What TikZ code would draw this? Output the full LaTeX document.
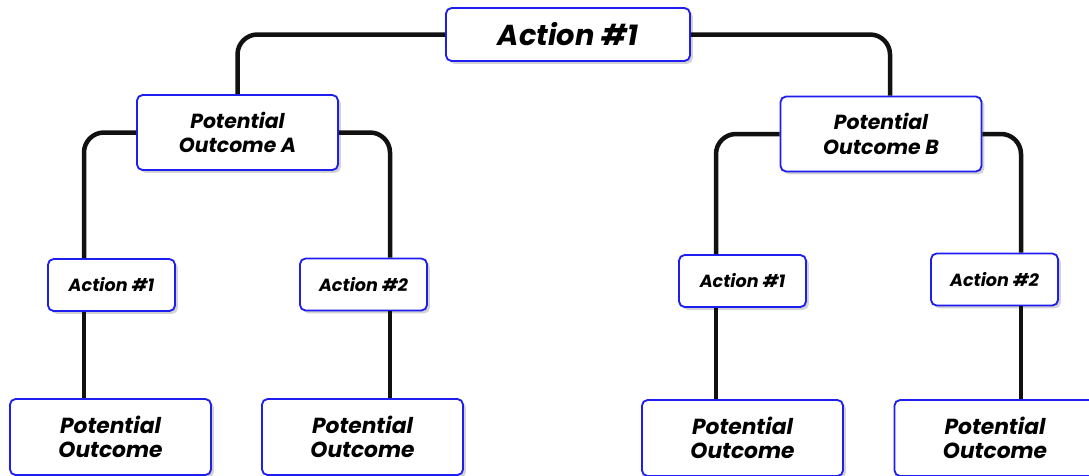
\documentclass[tikz,border=0pt]{standalone}
\usepackage{fontspec}
\setmainfont{Poppins}
\usetikzlibrary{shadows}
\definecolor{boxblue}{HTML}{1E1EF0}
\definecolor{linkblack}{HTML}{111111}

\begin{document}
\begin{tikzpicture}[
    x=0.025cm, y=-0.025cm,
    font=\bfseries\itshape,
    basebox/.style={rectangle, rounded corners=4pt, draw=boxblue, line width=1.3pt,
                    fill=white, align=center, inner sep=2pt,
                    drop shadow={shadow xshift=2pt, shadow yshift=-2pt, opacity=0.35}},
    topbox/.style={basebox, minimum width=6.1cm, minimum height=1.325cm, font=\fontsize{20.5}{22}\selectfont\bfseries\itshape},
    outbox/.style={basebox, minimum width=5.025cm, minimum height=1.875cm, font=\fontsize{14.5}{17.5}\selectfont\bfseries\itshape},
    actbox/.style={basebox, minimum width=3.175cm, minimum height=1.3cm, font=\fontsize{12.5}{14}\selectfont\bfseries\itshape},
    resbox/.style={basebox, minimum width=5.025cm, minimum height=1.9cm, font=\fontsize{15.5}{17.5}\selectfont\bfseries\itshape},
    link/.style={line width=3.2pt, draw=linkblack, rounded corners=0.5cm}
  ]
    \useasboundingbox (0,0) rectangle (1089,475);

    % First choice and its two outcomes
    \node[topbox] (top)  at (568, 34.5) {Action \#1};
    \node[outbox] (outa) at (237.5, 132.5) {Potential\\Outcome A};
    \node[outbox] (outb) at (881, 134) {Potential\\Outcome B};

    % Second round of actions
    \node[actbox] (acta1) at (111.5, 285) {Action \#1};
    \node[actbox] (acta2) at (363.5, 284.5) {Action \#2};
    \node[actbox] (actb1) at (742.5, 281) {Action \#1};
    \node[actbox] (actb2) at (994.5, 279.5) {Action \#2};

    % Final outcomes, cut by the lower edge
    \node[resbox] (resa1) at (110.5, 437) {Potential\\Outcome};
    \node[resbox] (resa2) at (362.5, 437) {Potential\\Outcome};
    \node[resbox] (resb1) at (742.5, 438) {Potential\\Outcome};
    \node[resbox] (resb2) at (995, 438) {Potential\\Outcome};

    % Trunk positions of the vertical lines
    \coordinate (tb)  at (890, 0);
    \coordinate (ta1) at (84, 0);
    \coordinate (ta2) at (390, 0);
    \coordinate (tb1) at (716, 0);
    \coordinate (tb2) at (1021, 0);

    % Branches
    \draw[link] (top.west) -| (outa.north);
    \draw[link] (top.east) -| (tb |- outb.north);
    \draw[link] (outa.west) -| (ta1 |- acta1.north);
    \draw[link] (outa.east) -| (ta2 |- acta2.north);
    \draw[link] (outb.west) -| (tb1 |- actb1.north);
    \draw[link] (outb.east) -| (tb2 |- actb2.north);
    \draw[link] (ta1 |- acta1.south) -- (ta1 |- resa1.north);
    \draw[link] (ta2 |- acta2.south) -- (ta2 |- resa2.north);
    \draw[link] (tb1 |- actb1.south) -- (tb1 |- resb1.north);
    \draw[link] (tb2 |- actb2.south) -- (tb2 |- resb2.north);
  \end{tikzpicture}
\end{document}
